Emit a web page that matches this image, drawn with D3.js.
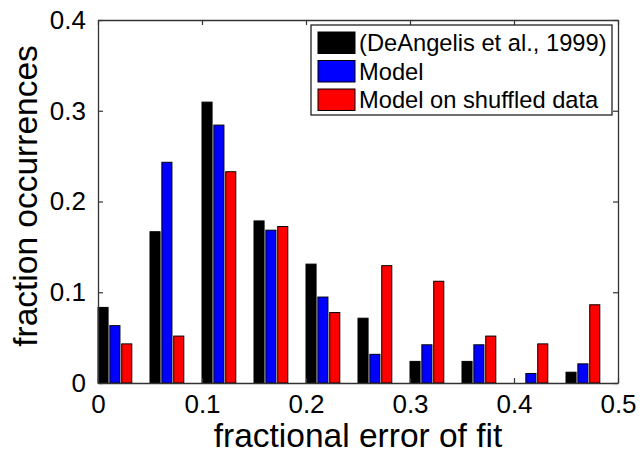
<!DOCTYPE html>
<html>
<head>
<meta charset="utf-8">
<script src="https://cdn.jsdelivr.net/npm/d3@7"></script>
<style>
  html, body { margin: 0; padding: 0; background: #fff; }
  svg { display: block; font-family: "Liberation Sans", Arial, Helvetica, sans-serif; }
</style>
</head>
<body>
<svg id="chart" width="642" height="453"></svg>
<script>
// Histogram bins (left edge of each bin of fractional error)
const bins = [0, 0.05, 0.10, 0.15, 0.20, 0.25, 0.30, 0.35, 0.40, 0.45];

// Fraction of occurrences in each bin, per series
const seriesNames = ["(DeAngelis et al., 1999)", "Model", "Model on shuffled data"];
const deAngelis = [0.0833, 0.1667, 0.3095, 0.1786, 0.1310, 0.0714, 0.0238, 0.0238, 0.0, 0.0119];
const model     = [0.0632, 0.2432, 0.2842, 0.1684, 0.0947, 0.0316, 0.0421, 0.0421, 0.0105, 0.0211];
const shuffled  = [0.0431, 0.0517, 0.2328, 0.1724, 0.0776, 0.1293, 0.1121, 0.0517, 0.0431, 0.0862];
const seriesColors = ["#000000", "#0000ff", "#ff0000"];

// Axis ticks
const xTicks = [0, 0.1, 0.2, 0.3, 0.4, 0.5];
const yTicks = [0, 0.1, 0.2, 0.3, 0.4];

const svg = d3.select("#chart");
const plotL = 98, plotR = 618, plotT = 20, plotB = 383;

const x = d3.scaleLinear().domain([0, 0.5]).range([plotL, plotR]);
const y = d3.scaleLinear().domain([0, 0.4]).range([plotB, plotT]);

const allSeries = [deAngelis, model, shuffled];
const rows = bins.map((b, i) => ({ bin: b, values: allSeries.map(s => s[i]) }));

// Bars of a group sit in the first two thirds of their bin
const sub = d3.scaleBand().domain([0, 1, 2]).paddingInner(0.15).paddingOuter(0);

const groups = svg.append("g").selectAll("g").data(rows).join("g");
groups.each(function (d) {
  sub.range([x(d.bin), x(d.bin + 0.0325)]);
  d3.select(this).selectAll("rect")
    .data(d.values.map((v, k) => ({ v, k })))
    .join("rect")
    .attr("x", e => sub(e.k))
    .attr("width", sub.bandwidth())
    .attr("y", e => y(e.v))
    .attr("height", e => y(0) - y(e.v))
    .attr("fill", e => seriesColors[e.k])
    .attr("stroke", "#000")
    .attr("stroke-width", e => e.v > 0 ? 1 : 0);
});

// Axes box with inward ticks on all four sides
const axisColor = "#333";
const tickLen = 5;
const tickFont = 26;

const xAxisB = d3.axisBottom(x).tickValues(xTicks).tickSizeInner(-tickLen).tickSizeOuter(0)
  .tickPadding(12).tickFormat(d => d === 0 ? "0" : d3.format(".1f")(d));
const xAxisT = d3.axisTop(x).tickValues(xTicks).tickSizeInner(-tickLen).tickSizeOuter(0).tickFormat("");
const yAxisL = d3.axisLeft(y).tickValues(yTicks).tickSizeInner(-tickLen).tickSizeOuter(0)
  .tickPadding(12).tickFormat(d => d === 0 ? "0" : d3.format(".1f")(d));
const yAxisR = d3.axisRight(y).tickValues(yTicks).tickSizeInner(-tickLen).tickSizeOuter(0).tickFormat("");

function styleAxis(g) {
  g.select(".domain").attr("stroke", axisColor).attr("stroke-width", 1.3);
  g.selectAll(".tick line").attr("stroke", axisColor).attr("stroke-width", 1.2);
  g.selectAll(".tick text").attr("fill", "#000").attr("font-size", tickFont)
    .attr("font-family", "Liberation Sans, Arial, sans-serif");
}

svg.append("g").attr("transform", `translate(0,${plotB})`).call(xAxisB).call(styleAxis);
svg.append("g").attr("transform", `translate(0,${plotT})`).call(xAxisT).call(styleAxis);
svg.append("g").attr("transform", `translate(${plotL},0)`).call(yAxisL).call(styleAxis);
svg.append("g").attr("transform", `translate(${plotR},0)`).call(yAxisR).call(styleAxis);

// Axis titles
svg.append("text")
  .attr("x", (plotL + plotR) / 2).attr("y", 447)
  .attr("text-anchor", "middle").attr("font-size", 33.5).attr("fill", "#000")
  .text("fractional error of fit");
svg.append("text")
  .attr("transform", "translate(37,196) rotate(-90)")
  .attr("text-anchor", "middle").attr("font-size", 33.5).attr("fill", "#000")
  .text("fraction occurrences");

// Legend
const legend = svg.append("g").attr("transform", "translate(311,25)");
legend.append("rect")
  .attr("width", 301).attr("height", 90)
  .attr("fill", "#fff").attr("stroke", "#222").attr("stroke-width", 1.3);
const rowH = 28.5;
const items = legend.selectAll("g.item").data(seriesNames).join("g")
  .attr("class", "item")
  .attr("transform", (d, i) => `translate(7,${7 + i * rowH})`);
items.append("rect")
  .attr("width", 37).attr("height", 21.5)
  .attr("fill", (d, i) => seriesColors[i]).attr("stroke", "#000").attr("stroke-width", 1);
items.append("text")
  .attr("x", 41).attr("y", 19)
  .attr("font-size", 23.7).attr("fill", "#000")
  .text(d => d);
</script>
</body>
</html>
